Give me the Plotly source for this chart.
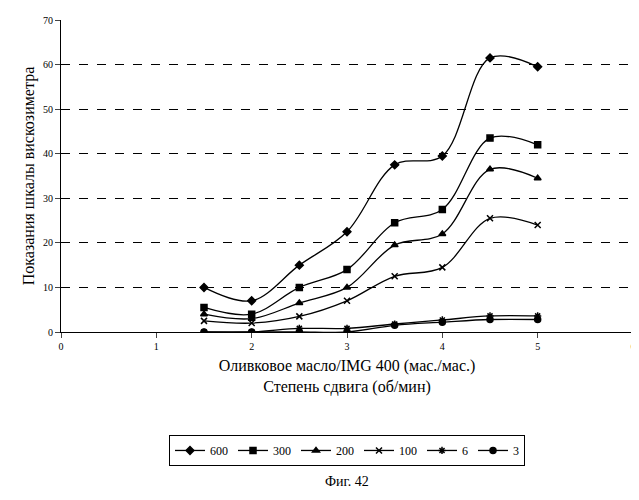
import plotly.graph_objects as go

x = [1.5, 2, 2.5, 3, 3.5, 4, 4.5, 5]
s600 = [10, 7, 15, 22.5, 37.5, 39.5, 61.5, 59.5]
s300 = [5.5, 4, 10, 14, 24.5, 27.5, 43.5, 42]
s200 = [4, 3, 6.5, 10, 19.5, 22, 36.5, 34.5]
s100 = [2.5, 2, 3.5, 7, 12.5, 14.5, 25.5, 24]
s6 = [0, 0, 0.8, 0.8, 1.8, 2.7, 3.6, 3.6]
s3 = [0, 0, 0, 0, 1.5, 2.2, 2.8, 2.8]

series = [("600", s600, "diamond"), ("300", s300, "square"), ("200", s200, "triangle-up"),
          ("100", s100, "x-thin"), ("6", s6, "asterisk"), ("3", s3, "circle")]

font = dict(family="Liberation Serif, Times New Roman, serif", color="black")
fig = go.Figure()
for name, ys, sym in series:
    fig.add_trace(go.Scatter(
        x=x, y=ys, name=name, mode="lines+markers",
        line=dict(color="black", width=1.3, shape="spline"),
        marker=dict(symbol=sym, size=6, color="black",
                    line=dict(color="black", width=1.5))))

fig.update_layout(
    width=639, height=500, plot_bgcolor="white", paper_bgcolor="white",
    font=dict(size=14, **font),
    margin=dict(l=53, r=14, t=12, b=176),
    showlegend=True,
    legend=dict(orientation="h", x=0.5, xanchor="center", y=-0.33, yanchor="top",
                bordercolor="black", borderwidth=1, font=dict(size=12, **font),
                itemwidth=30),
    xaxis=dict(range=[0, 6], dtick=1, showgrid=False, showline=True, linecolor="black",
               ticks="outside", tickfont=dict(size=10, **font), automargin=False,
               title=dict(text="Оливковое масло/IMG 400 (мас./мас.)<br>Степень сдвига (об/мин)",
                          font=dict(size=16, **font), standoff=8)),
    yaxis=dict(range=[0, 70], dtick=10, showgrid=True, gridcolor="black", griddash="dash",
               gridwidth=1, showline=True, linecolor="black", ticks="outside",
               tickfont=dict(size=10, **font), automargin=False,
               title=dict(text="Показания шкалы вискозиметра", font=dict(size=16, **font),
                          standoff=4)),
    annotations=[dict(text="Фиг. 42", xref="paper", yref="paper", x=0.5, y=-0.45,
                      yanchor="top", showarrow=False, font=dict(size=14, **font))],
)
fig.write_html("out.html")
